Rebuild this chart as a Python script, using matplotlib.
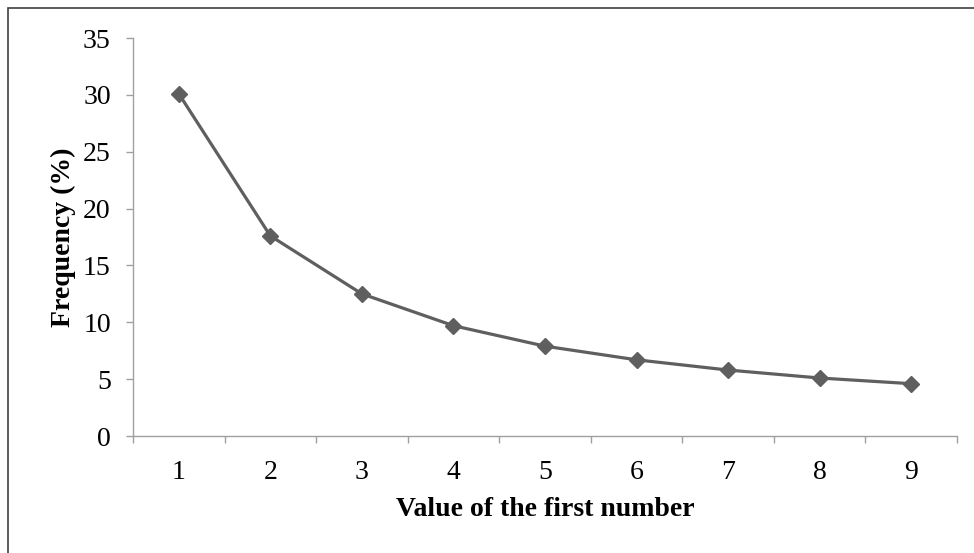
import numpy as np
import matplotlib.pyplot as plt
from matplotlib.patches import Rectangle

# Data: frequency of the leading digit
digits = ['1', '2', '3', '4', '5', '6', '7', '8', '9']
freq = [30.1, 17.6, 12.5, 9.7, 7.9, 6.7, 5.8, 5.1, 4.6]

plt.rcParams['font.family'] = ['Liberation Serif', 'DejaVu Serif']

fig = plt.figure(figsize=(9.74, 5.53), dpi=100)
ax = fig.add_axes([133 / 974, 1 - 436 / 553, (957 - 133) / 974, (436 - 38) / 553])

# chart area border (right/bottom fall outside the image)
fig.patches.append(Rectangle((8 / 974, -0.1), 1.2, 1 - 8 / 553 + 0.1,
                             transform=fig.transFigure, fill=False,
                             edgecolor='#404040', linewidth=1.2))

x = np.arange(len(digits))
ax.plot(x, freq, color='#5f5f5f', linewidth=2.3, marker='D', markersize=8.5,
        markerfacecolor='#5f5f5f', markeredgecolor='#5f5f5f')

ax.set_xlim(-0.5, len(digits) - 0.5)
ax.set_ylim(0, 35)
ax.set_yticks(np.arange(0, 36, 5))
ax.set_xticks(x)
ax.set_xticklabels(digits)
ax.set_xticks(np.arange(-0.5, len(digits), 1), minor=True)
ax.tick_params(axis='x', which='major', length=0, pad=17, labelsize=20)
ax.tick_params(axis='x', which='minor', length=5, color='#a0a0a0', width=1)
ax.tick_params(axis='y', length=5, color='#a0a0a0', width=1, pad=11, labelsize=20)

for s in ['top', 'right']:
    ax.spines[s].set_visible(False)
for s in ['left', 'bottom']:
    ax.spines[s].set_color('#a0a0a0')
    ax.spines[s].set_linewidth(1)

ax.set_xlabel('Value of the first number', fontsize=20, fontweight='bold', labelpad=9)
ax.set_ylabel('Frequency (%)', fontsize=20, fontweight='bold', labelpad=5)

fig.savefig('out.png', dpi=100)
